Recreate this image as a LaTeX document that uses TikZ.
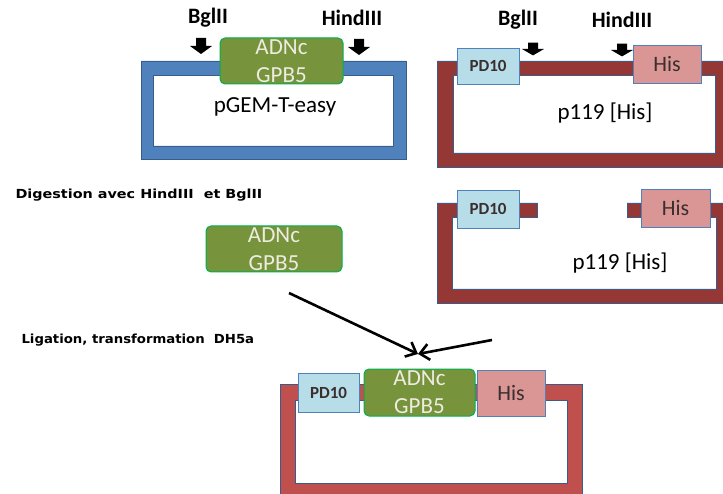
\documentclass[tikz,border=0pt]{standalone}
\usepackage{fontspec}
\setmainfont{Carlito}
\newfontfamily\notefont{DejaVu Sans}
\usepackage{graphicx}
\usetikzlibrary{arrows.meta, positioning}

\definecolor{vecblue}{HTML}{4F81BD}
\definecolor{edgeblue}{HTML}{385D8A}
\definecolor{vecred}{HTML}{953735}
\definecolor{ligred}{HTML}{C0504D}
\definecolor{insgreen}{HTML}{77933C}
\definecolor{insedge}{HTML}{00B050}
\definecolor{instext}{HTML}{EEECE1}
\definecolor{pdblue}{HTML}{B7DEE8}
\definecolor{hispink}{HTML}{D99694}
\definecolor{tagtext}{HTML}{3A2E2E}

\tikzset{
    cutmark/.pic={\fill[black] (-5,-8) -- (5,-8) -- (5,0) -- (11,0) -- (0,8)
                  -- (-11,0) -- (-5,0) -- cycle;}
}

\begin{document}
\begin{tikzpicture}[x=1pt, y=-1pt,
    vec/.style={fill=#1, draw=edgeblue, line width=0.8pt, even odd rule},
    ins/.style={draw=insedge, fill=insgreen, line width=1pt, rounded corners=5pt,
                inner sep=0pt, font=\fontsize{23}{28}\selectfont, text=instext, align=center},
    tag/.style={draw=vecblue, line width=0.8pt, fill=#1, inner sep=0pt, text=tagtext},
    site/.style={font=\fontsize{22}{24}\selectfont\bfseries},
    plasmid/.style={font=\fontsize{23}{26}\selectfont},
    note/.style={font=\notefont\bfseries\fontsize{12.5}{14}\selectfont, anchor=west},
    ligarrow/.style={-{Straight Barb[length=9pt, width=16pt]}, line width=2.6pt}
]
\useasboundingbox (0,0) rectangle (723,494);

% Vectors
\path[vec=vecblue] (141,61) rectangle (406,159) (153,75) rectangle (393,146);
\path[vec=vecred] (437,61) rectangle (730,167) (453,75) rectangle (715,153);
\path[vec=vecred] (537,203) -- (437,203) -- (437,303) -- (730,303) -- (730,203)
    -- (627,203) -- (627,217) -- (716,217) -- (716,289) -- (452,289) -- (452,217)
    -- (537,217) -- cycle;
\path[vec=ligred] (280,384) rectangle (582,500) (295,400) rectangle (567,483);

% pGEM-T-easy
\node[ins, minimum width=123pt, minimum height=46pt] (gpbA) at (281.5,61) {ADNc\\GPB5};
\node[site] (bglA) at (208,18) {BglII};
\node[site] (hindA) at (352,18) {HindIII};
\pic (cutA1) at (201,46) {cutmark};
\pic (cutA2) at (359,47) {cutmark};
\node[plasmid] (pgem) at (275,107) {pGEM-T-easy};

% p119 [His]
\node[tag=pdblue, minimum width=62pt, minimum height=36pt,
      font=\fontsize{17}{20}\selectfont\bfseries] (pdA) at (488,66) {PD10};
\node[tag=hispink, minimum width=68pt, minimum height=38pt,
      font=\fontsize{22}{26}\selectfont] (hisA) at (667,64) {His};
\node[site] (bglB) at (518,20) {BglII};
\node[site] (hindB) at (622,20) {HindIII};
\pic[yscale=0.8] (cutB1) at (533,49) {cutmark};
\pic[yscale=0.8] (cutB2) at (622,50) {cutmark};
\node[plasmid] (pA) at (605,113) {p119 [His]};

% Digestion
\node[note] (dig) at (12,195) {\scalebox{1.15}[1]{Digestion avec HindIII\ \ et BglII}};
\node[ins, minimum width=136pt, minimum height=46pt] (gpbB) at (274,249) {ADNc\\GPB5};
\node[tag=pdblue, minimum width=62pt, minimum height=38pt,
      font=\fontsize{17}{20}\selectfont\bfseries] (pdB) at (488,209) {PD10};
\node[tag=hispink, minimum width=69pt, minimum height=38pt,
      font=\fontsize{22}{26}\selectfont] (hisB) at (675.5,208) {His};
\node[plasmid] (pB) at (620,263) {p119 [His]};

% Ligation
\node[note] (lig) at (18,340) {\scalebox{1.06}[1]{Ligation, transformation\ \ DH5a}};
\coordinate (fromL) at (289,293);
\coordinate (fromR) at (492,340);
\coordinate (tip) at (418,354);
\draw[ligarrow] (fromL) -- (tip);
\draw[ligarrow] (fromR) -- (tip);
\node[tag=pdblue, minimum width=61pt, minimum height=39pt,
      font=\fontsize{17}{20}\selectfont\bfseries] (pdC) at (328.5,392.5) {PD10};
\node[ins, minimum width=111pt, minimum height=47pt] (gpbC) at (419.5,392.5) {ADNc\\GPB5};
\node[tag=hispink, minimum width=68pt, minimum height=46pt,
      font=\fontsize{22}{26}\selectfont] (hisC) at (511,393) {His};
\end{tikzpicture}
\end{document}
